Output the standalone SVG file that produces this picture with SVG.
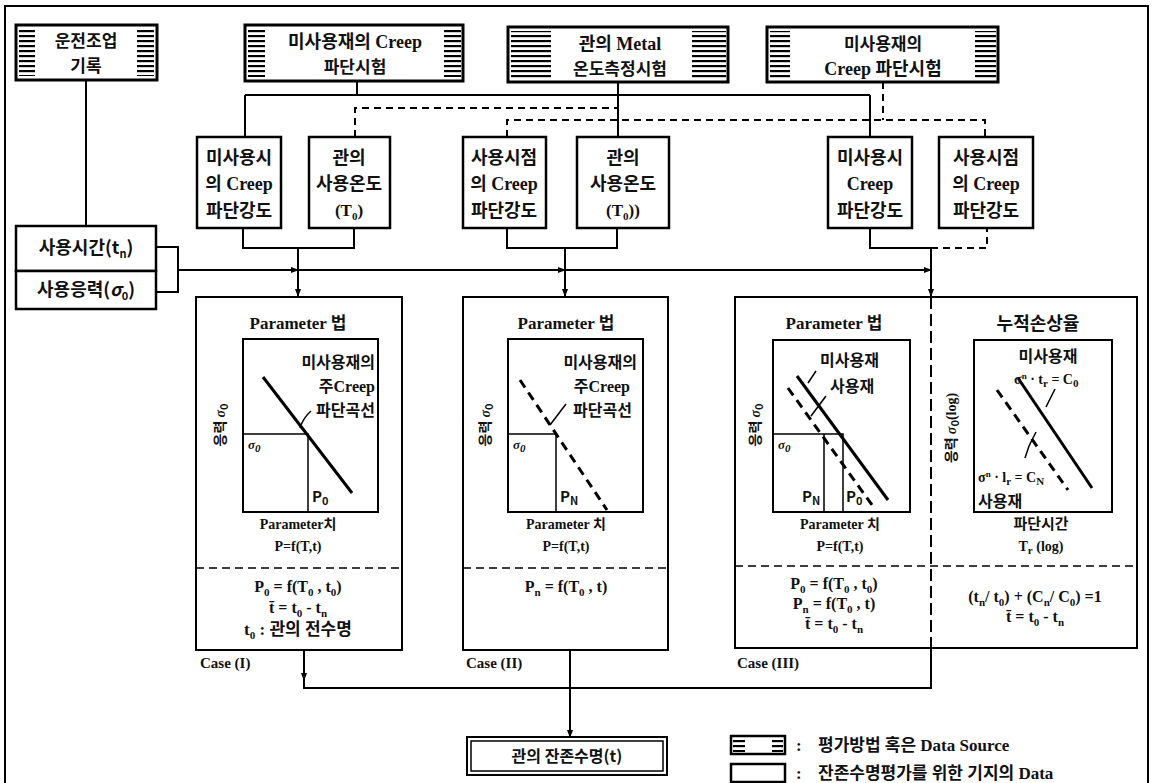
<svg xmlns="http://www.w3.org/2000/svg" width="1155" height="783" viewBox="0 0 1155 783">
<defs>
<pattern id="hatch" width="6" height="5" patternUnits="userSpaceOnUse"><rect x="0" y="0" width="6" height="2.2" fill="#000"/></pattern>
<marker id="arr" viewBox="0 0 8 8" refX="7" refY="4" markerWidth="8" markerHeight="8" markerUnits="userSpaceOnUse" orient="auto"><path d="M0,1 L8,4 L0,7 z" fill="#000"/></marker>
</defs>
<style>
.t{font-family:"Liberation Serif","Noto Sans CJK KR",serif;font-weight:bold;fill:#111;text-anchor:middle}
.k{font-family:"Noto Sans CJK KR","Liberation Sans",sans-serif;font-weight:bold;fill:#111;text-anchor:middle}
.s18{font-size:18px}.s17{font-size:17px}.s16{font-size:16px}.s15{font-size:15px}.s14{font-size:14px}.s13{font-size:13px}
.src{fill:#fff;stroke:#000;stroke-width:3}
.box{fill:#fff;stroke:#000;stroke-width:2.5}
.cbox{fill:none;stroke:#000;stroke-width:2}
.chart{fill:none;stroke:#000;stroke-width:2}
.thin{fill:none;stroke:#000;stroke-width:1.5}
.curve{fill:none;stroke:#000;stroke-width:3}
.dcurve{fill:none;stroke:#000;stroke-width:3;stroke-dasharray:9 6}
.div{fill:none;stroke:#000;stroke-width:1.5;stroke-dasharray:8 5}
.h{fill:url(#hatch)}
.sub{font-size:11px}
.r{text-anchor:end}.l{text-anchor:start}
</style>
<rect width="1155" height="783" fill="#fff"/>
<path d="M5,790 V6 H1148 V790" fill="none" stroke="#000" stroke-width="2"/>

<g id="connectors" fill="none" stroke="#000" stroke-width="2">
<path d="M86,80 V226"/>
<path d="M357,81 V95 M245,95 H870 M245,95 V137 M870,95 V137"/>
<path d="M618,82 V137"/>
<path d="M355,137 V108 H618" stroke-dasharray="7 5"/>
<path d="M883,82 V120 M507,137 V120 H985 V137" stroke-dasharray="7 5"/>
<path d="M243,228 V248 H354 V228"/>
<path d="M298,248 V296" marker-end="url(#arr)"/>
<path d="M507,228 V248 H617 V228"/>
<path d="M565,248 V296" marker-end="url(#arr)"/>
<path d="M870,228 V248 H931"/>
<path d="M931,248 H987 V228" stroke-dasharray="7 5"/>
<path d="M931,248 V296" marker-end="url(#arr)"/>
<path d="M156,247 H178 V292 H156"/>
<path d="M178,270 H298" marker-end="url(#arr)"/>
<path d="M298,270 H565" marker-end="url(#arr)"/>
<path d="M565,270 H931" marker-end="url(#arr)"/>
<path d="M931,297 V648" stroke-dasharray="12 5"/>
<path d="M304,650 V680" marker-end="url(#arr)"/>
<path d="M304,680 V688 H931 V648"/>
<path d="M570,650 V737" marker-end="url(#arr)"/>
</g>

<g id="src-operation">
<rect class="src" x="16" y="25" width="141" height="55"/>
<rect class="h" x="19" y="29" width="16" height="47"/>
<rect class="h" x="137" y="29" width="17" height="47"/>
<text class="k s17" x="86" y="47">운전조업</text>
<text class="k s17" x="86" y="72">기록</text>
</g>

<g id="src-creep1">
<rect class="src" x="245" y="25" width="218" height="56"/>
<rect class="h" x="248" y="29" width="17" height="48"/>
<rect class="h" x="444" y="29" width="17" height="48"/>
<text class="t s18" x="355" y="48">미사용재의 Creep</text>
<text class="k s17" x="355" y="73">파단시험</text>
</g>

<g id="src-metal">
<rect class="src" x="508" y="27" width="220" height="55"/>
<rect class="h" x="511" y="31" width="40" height="47"/>
<rect class="h" x="692" y="31" width="34" height="47"/>
<text class="t s18" x="620" y="50">관의 Metal</text>
<text class="k s17" x="620" y="75">온도측정시험</text>
</g>

<g id="src-creep2">
<rect class="src" x="767" y="27" width="231" height="55"/>
<rect class="h" x="770" y="31" width="20" height="47"/>
<rect class="h" x="975" y="31" width="21" height="47"/>
<text class="k s17" x="883" y="50">미사용재의</text>
<text class="t s18" x="883" y="75">Creep 파단시험</text>
</g>

<g id="data-A">
<rect class="box" x="197" y="137" width="84" height="91"/>
<text class="k s18" x="239" y="164">미사용시</text>
<text class="t s18" x="239" y="190">의 Creep</text>
<text class="k s18" x="239" y="217">파단강도</text>
</g>
<g id="data-B">
<rect class="box" x="309" y="137" width="81" height="91"/>
<text class="k s18" x="349" y="164">관의</text>
<text class="k s18" x="349" y="190">사용온도</text>
<text class="t s17" x="349" y="216">(T<tspan class="sub" dy="4">0</tspan><tspan dy="-4">)</tspan></text>
</g>
<g id="data-C">
<rect class="box" x="463" y="137" width="83" height="91"/>
<text class="k s18" x="504" y="164">사용시점</text>
<text class="t s18" x="504" y="190">의 Creep</text>
<text class="k s18" x="504" y="217">파단강도</text>
</g>
<g id="data-D">
<rect class="box" x="577" y="137" width="92" height="91"/>
<text class="k s18" x="623" y="164">관의</text>
<text class="k s18" x="623" y="190">사용온도</text>
<text class="t s17" x="623" y="216">(T<tspan class="sub" dy="4">0</tspan><tspan dy="-4">))</tspan></text>
</g>
<g id="data-E">
<rect class="box" x="828" y="137" width="84" height="91"/>
<text class="k s18" x="870" y="164">미사용시</text>
<text class="t s18" x="870" y="190">Creep</text>
<text class="k s18" x="870" y="217">파단강도</text>
</g>
<g id="data-F">
<rect class="box" x="939" y="137" width="94" height="91"/>
<text class="k s18" x="986" y="164">사용시점</text>
<text class="t s18" x="986" y="190">의 Creep</text>
<text class="k s18" x="986" y="217">파단강도</text>
</g>

<g id="data-time">
<rect class="box" x="16" y="226" width="140" height="45"/>
<text class="k s18" x="86" y="254">사용시간(t<tspan class="sub" dy="4">n</tspan><tspan dy="-4">)</tspan></text>
</g>
<g id="data-stress">
<rect class="box" x="16" y="271" width="140" height="38"/>
<text class="k s18" x="86" y="296">사용응력(<tspan font-style="italic">σ</tspan><tspan class="sub" dy="4">0</tspan><tspan dy="-4">)</tspan></text>
</g>

<g id="case1">
<rect class="cbox" x="196" y="297" width="206" height="353"/>
<line class="div" x1="196" y1="568" x2="402" y2="568"/>
<text class="t s17" x="298" y="329">Parameter 법</text>
<rect class="chart" x="243" y="339" width="135" height="173"/>
<path class="thin" d="M243,434 H308 V512"/>
<line class="curve" x1="263" y1="377" x2="352" y2="493"/>
<path class="thin" d="M300,428 Q303,418 311,411"/>
<text class="k s16 r" x="375" y="368">미사용재의</text>
<text class="t s16 r" x="375" y="392">주Creep</text>
<text class="k s16 r" x="375" y="416">파단곡선</text>
<text class="t s13 l" x="248" y="449" font-style="italic">σ<tspan class="sub" dy="3">0</tspan></text>
<text class="k s15 l" x="312" y="502">P<tspan class="sub" dy="3">0</tspan></text>
<text class="k s14" transform="translate(225,425) rotate(-90)">응력 <tspan font-style="italic" font-family="Liberation Serif">σ</tspan><tspan class="sub" dy="3">0</tspan></text>
<text class="t s14" x="298" y="529">Parameter치</text>
<text class="t s14" x="298" y="551">P=f(T,t)</text>
<text class="t s16" x="298" y="592">P<tspan class="sub" dy="4">0</tspan><tspan dy="-4"> = f(T</tspan><tspan class="sub" dy="4">0</tspan><tspan dy="-4"> , t</tspan><tspan class="sub" dy="4">0</tspan><tspan dy="-4">)</tspan></text>
<text class="t s16" x="298" y="613">t̄ = t<tspan class="sub" dy="4">0</tspan><tspan dy="-4">  - t</tspan><tspan class="sub" dy="4">n</tspan></text>
<text class="t s17" x="298" y="635">t<tspan class="sub" dy="4">0</tspan><tspan dy="-4"> : 관의 전수명</tspan></text>
<text class="t s15 l" x="200" y="668">Case (I)</text>
</g>

<g id="case2">
<rect class="cbox" x="463" y="297" width="205" height="353"/>
<line class="div" x1="463" y1="568" x2="668" y2="568"/>
<text class="t s17" x="566" y="329">Parameter 법</text>
<rect class="chart" x="508" y="339" width="135" height="173"/>
<path class="thin" d="M508,434 H556 V512"/>
<line class="dcurve" x1="520" y1="380" x2="607" y2="510"/>
<path class="thin" d="M550,425 L566,404"/>
<text class="k s16 r" x="637" y="368">미사용재의</text>
<text class="t s16 r" x="630" y="392">주Creep</text>
<text class="k s16 r" x="632" y="416">파단곡선</text>
<text class="t s13 l" x="513" y="449" font-style="italic">σ<tspan class="sub" dy="3">0</tspan></text>
<text class="k s15 l" x="560" y="502">P<tspan class="sub" dy="3">N</tspan></text>
<text class="k s14" transform="translate(490,425) rotate(-90)">응력 <tspan font-style="italic" font-family="Liberation Serif">σ</tspan><tspan class="sub" dy="3">0</tspan></text>
<text class="t s14" x="566" y="529">Parameter 치</text>
<text class="t s14" x="566" y="551">P=f(T,t)</text>
<text class="t s16" x="566" y="592">P<tspan class="sub" dy="4">n</tspan><tspan dy="-4"> = f(T</tspan><tspan class="sub" dy="4">0</tspan><tspan dy="-4"> , t)</tspan></text>
<text class="t s15 l" x="466" y="668">Case (II)</text>
</g>

<g id="case3">
<rect class="cbox" x="735" y="297" width="402" height="351"/>
<line class="div" x1="735" y1="566" x2="1137" y2="566"/>
<text class="t s17" x="834" y="329">Parameter 법</text>
<rect class="chart" x="773" y="340" width="137" height="172"/>
<path class="thin" d="M773,434 H843 V512 M824,434 V512"/>
<line class="curve" x1="797" y1="376" x2="888" y2="500"/>
<line class="dcurve" x1="788" y1="388" x2="872" y2="505"/>
<path class="thin" d="M808,383 L816,371"/>
<path class="thin" d="M811,416 L826,396"/>
<text class="k s16 l" x="820" y="366">미사용재</text>
<text class="k s16 l" x="830" y="392">사용재</text>
<text class="t s13 l" x="778" y="449" font-style="italic">σ<tspan class="sub" dy="3">0</tspan></text>
<text class="k s15 l" x="802" y="502">P<tspan class="sub" dy="3">N</tspan></text>
<text class="k s15 l" x="846" y="502">P<tspan class="sub" dy="3">0</tspan></text>
<text class="k s14" transform="translate(760,425) rotate(-90)">응력 <tspan font-style="italic" font-family="Liberation Serif">σ</tspan><tspan class="sub" dy="3">0</tspan></text>
<text class="t s14" x="840" y="529">Parameter 치</text>
<text class="t s14" x="840" y="551">P=f(T,t)</text>
<text class="t s16" x="834" y="589">P<tspan class="sub" dy="4">0</tspan><tspan dy="-4"> = f(T</tspan><tspan class="sub" dy="4">0</tspan><tspan dy="-4"> , t</tspan><tspan class="sub" dy="4">0</tspan><tspan dy="-4">)</tspan></text>
<text class="t s16" x="834" y="609">P<tspan class="sub" dy="4">n</tspan><tspan dy="-4"> = f(T</tspan><tspan class="sub" dy="4">0</tspan><tspan dy="-4"> , t)</tspan></text>
<text class="t s16" x="834" y="629">t̄ = t<tspan class="sub" dy="4">0</tspan><tspan dy="-4">  - t</tspan><tspan class="sub" dy="4">n</tspan></text>

<text class="k s18" x="1038" y="330">누적손상율</text>
<rect class="chart" x="974" y="340" width="138" height="172"/>
<line class="curve" x1="1018" y1="378" x2="1092" y2="488"/>
<line class="dcurve" x1="997" y1="390" x2="1068" y2="490"/>
<path class="thin" d="M1046,407 L1055,389"/>
<path class="thin" d="M1036,432 L1029,446 L1025,458"/>
<text class="k s16" x="1048" y="362">미사용재</text>
<text class="t s14 l" x="1014" y="384" font-weight="normal">σ<tspan font-size="9px" dy="-5">n</tspan><tspan dy="5"> · t</tspan><tspan class="sub" dy="3">r</tspan><tspan dy="-3"> = C</tspan><tspan class="sub" dy="3">0</tspan></text>
<text class="t s14 l" x="978" y="482" font-weight="normal">σ<tspan font-size="9px" dy="-5">n</tspan><tspan dy="5"> · l</tspan><tspan class="sub" dy="3">r</tspan><tspan dy="-3"> = C</tspan><tspan class="sub" dy="3">N</tspan></text>
<text class="k s16 l" x="978" y="507">사용재</text>
<text class="k s14" transform="translate(956,428) rotate(-90)">응력 <tspan font-style="italic" font-family="Liberation Serif">σ</tspan><tspan class="sub" dy="3">0</tspan><tspan dy="-3" font-family="Liberation Serif">(log)</tspan></text>
<text class="k s15" x="1041" y="529">파단시간</text>
<text class="t s14" x="1041" y="551">T<tspan class="sub" dy="3">r</tspan><tspan dy="-3"> (log)</tspan></text>
<text class="t s16" x="1035" y="602">(t<tspan class="sub" dy="4">n</tspan><tspan dy="-4">/ t</tspan><tspan class="sub" dy="4">0</tspan><tspan dy="-4">) + (C</tspan><tspan class="sub" dy="4">n</tspan><tspan dy="-4">/ C</tspan><tspan class="sub" dy="4">0</tspan><tspan dy="-4">) =1</tspan></text>
<text class="t s16" x="1035" y="622">t̄ = t<tspan class="sub" dy="4">0</tspan><tspan dy="-4">  - t</tspan><tspan class="sub" dy="4">n</tspan></text>
<text class="t s15 l" x="737" y="668">Case (III)</text>
</g>

<g id="result">
<rect fill="#fff" stroke="#000" stroke-width="2" x="467" y="737" width="200" height="38"/>
<rect fill="none" stroke="#000" stroke-width="1.5" x="471" y="741" width="192" height="30"/>
<text class="k s16" x="567" y="762">관의 잔존수명(t)</text>
</g>

<g id="legend">
<rect fill="#fff" stroke="#000" stroke-width="2.5" x="731" y="736" width="54" height="18"/>
<rect class="h" x="733" y="739" width="12" height="13"/>
<rect class="h" x="772" y="739" width="11" height="13"/>
<text class="t s17 l" x="796" y="751">:</text>
<text class="t s17 l" x="818" y="751">평가방법 혹은 Data Source</text>
<rect fill="#fff" stroke="#000" stroke-width="2.5" x="731" y="764" width="54" height="18"/>
<text class="t s17 l" x="796" y="779">:</text>
<text class="t s17 l" x="818" y="779">잔존수명평가를 위한 기지의 Data</text>
</g>
</svg>
